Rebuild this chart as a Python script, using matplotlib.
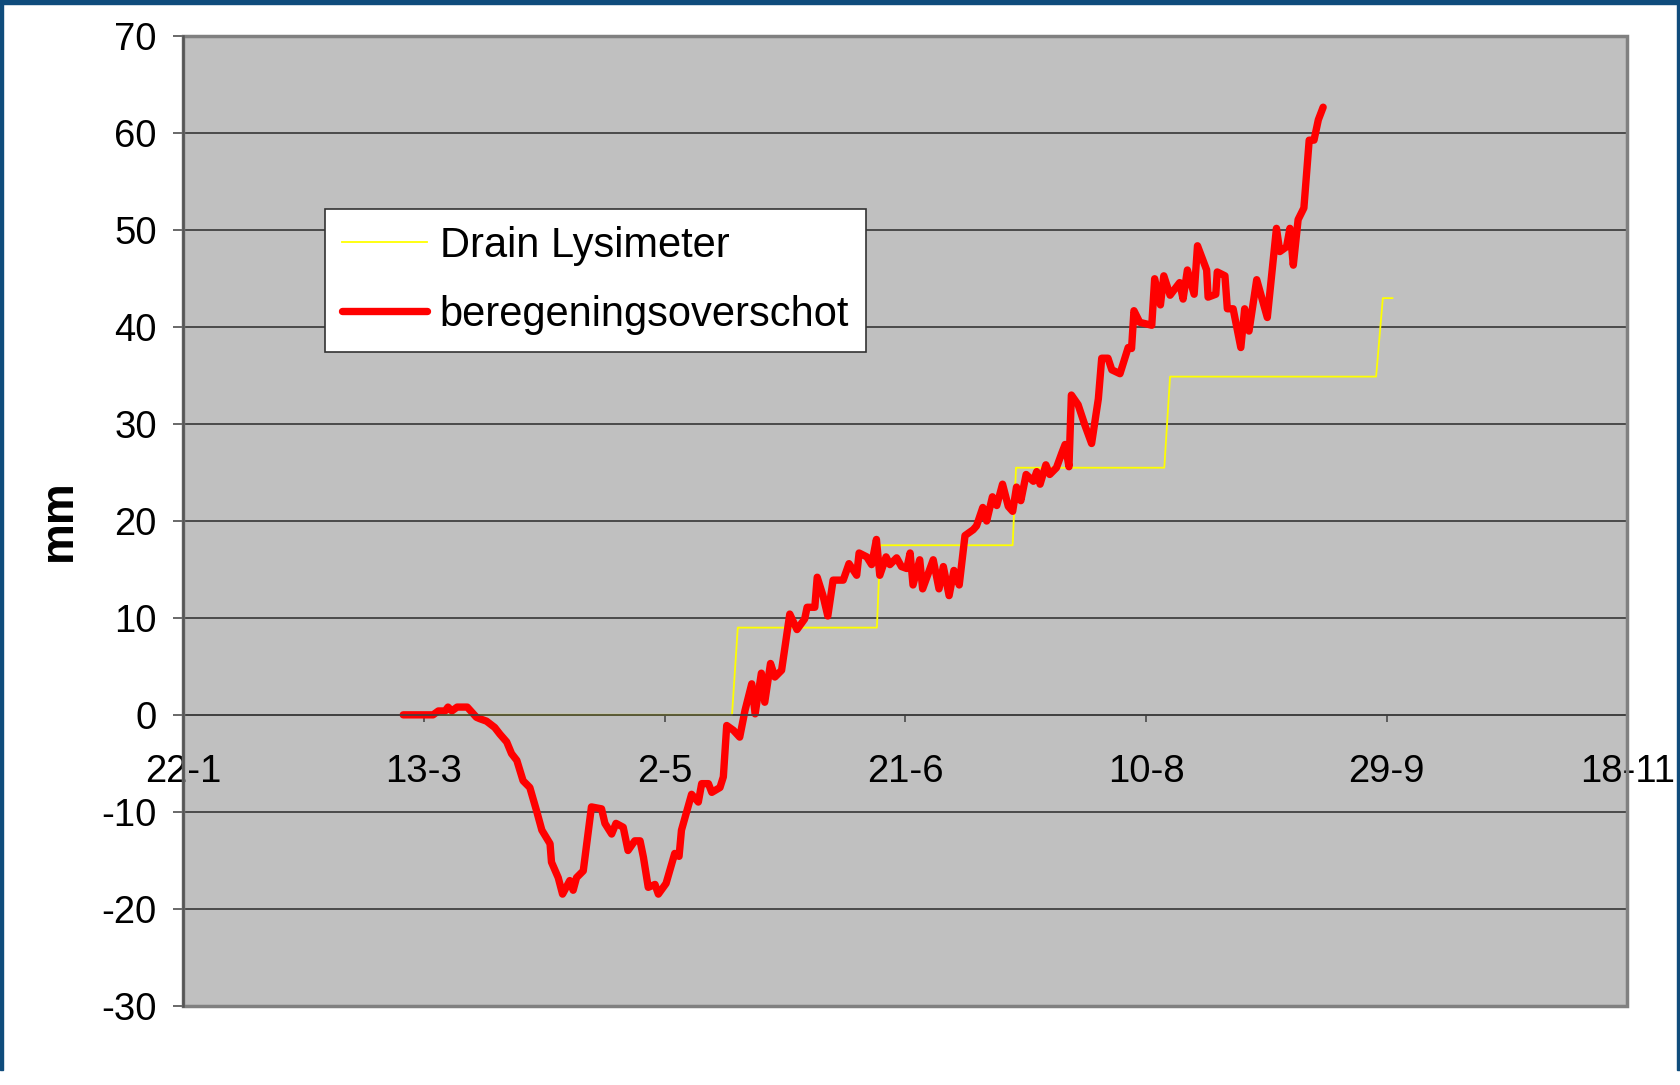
import matplotlib.pyplot as plt
from matplotlib.patches import Rectangle

plt.rcParams['font.family'] = ['Liberation Sans', 'DejaVu Sans']
plt.rcParams['axes.unicode_minus'] = False

# x = days after 22 January
tick_days = [0, 50, 100, 150, 200, 250, 300]
tick_labels = ['22-1', '13-3', '2-5', '21-6', '10-8', '29-9', '18-11']

# Drain Lysimeter (cumulative, mm)
drain_day = [50.0, 114.0, 115.2, 144.1, 144.8, 172.3, 173.0, 203.8, 205.0, 247.8, 249.2, 251.2]
drain_mm = [0.0, 0.0, 9.0, 9.0, 17.5, 17.5, 25.5, 25.5, 34.9, 34.9, 43.0, 43.0]

# beregeningsoverschot (mm)
surplus_day = [45.7, 51.9, 53.0, 54.4, 55.0, 55.8, 56.9, 59.0, 60.9, 61.6,
               63.0, 64.7, 65.8, 67.2, 68.2, 69.3, 70.6, 72.0, 73.4, 74.5,
               76.2, 76.5, 77.9, 78.8, 80.3, 81.0, 81.7, 83.1, 84.8, 86.9,
               87.6, 89.0, 89.9, 91.4, 92.4, 93.8, 94.9, 95.6, 96.6, 98.0,
               98.7, 100.3, 102.1, 103.0, 103.5, 105.6, 107.0, 107.7, 109.1, 109.8,
               111.5, 112.2, 112.9, 114.3, 115.6, 116.7, 118.1, 118.8, 120.1, 120.8,
               122.0, 122.9, 124.3, 126.0, 127.5, 129.1, 129.6, 131.2, 131.7, 132.9,
               133.9, 135.0, 137.1, 138.3, 139.9, 140.4, 142.0, 143.0, 144.0, 144.7,
               146.0, 146.8, 148.2, 149.2, 150.3, 151.0, 151.6, 153.0, 153.6, 155.8,
               157.0, 157.9, 159.1, 160.1, 161.2, 162.4, 164.1, 164.8, 166.1, 166.9,
               168.1, 169.0, 170.2, 171.4, 172.3, 173.1, 174.0, 175.1, 176.6, 177.3,
               178.0, 179.2, 180.0, 181.4, 182.5, 183.2, 184.0, 184.5, 185.9, 187.3,
               188.7, 190.1, 190.8, 192.1, 192.9, 194.6, 196.3, 197.0, 197.5, 198.7,
               201.2, 201.8, 203.0, 203.7, 205.0, 207.0, 207.7, 208.6, 210.0, 210.7,
               212.6, 212.9, 214.5, 214.8, 216.4, 216.9, 218.1, 219.7, 220.5, 221.4,
               223.0, 225.2, 227.1, 227.8, 229.2, 229.9, 230.6, 231.6, 232.8, 233.9,
               234.9, 235.8, 236.8]
surplus_mm = [0.0, 0.0, 0.4, 0.4, 0.8, 0.4, 0.8, 0.8, -0.25, -0.4,
              -0.65, -1.3, -2.0, -2.8, -4.0, -4.7, -6.8, -7.5, -9.9, -11.9,
              -13.3, -15.2, -16.8, -18.5, -17.1, -18.1, -16.8, -16.1, -9.5, -9.7,
              -11.2, -12.3, -11.2, -11.6, -14.0, -13.0, -13.0, -14.7, -17.8, -17.5,
              -18.5, -17.4, -14.3, -14.6, -11.9, -8.2, -9.0, -7.1, -7.1, -8.0,
              -7.5, -6.4, -1.1, -1.6, -2.3, 0.45, 3.2, 0.1, 4.3, 1.3,
              5.3, 3.9, 4.6, 10.4, 8.8, 9.9, 11.1, 11.1, 14.2, 12.3,
              10.2, 13.9, 13.9, 15.6, 14.4, 16.7, 16.3, 15.5, 18.1, 14.4,
              16.3, 15.5, 16.2, 15.3, 15.1, 16.7, 13.4, 16.0, 13.0, 16.0,
              13.0, 15.3, 12.3, 14.9, 13.4, 18.5, 19.1, 19.5, 21.4, 20.0,
              22.5, 21.6, 23.8, 21.5, 21.0, 23.5, 22.1, 24.8, 24.1, 25.1,
              23.8, 25.8, 24.8, 25.5, 27.0, 27.9, 25.6, 33.0, 32.0, 29.9,
              28.0, 32.6, 36.8, 36.8, 35.6, 35.2, 37.9, 37.8, 41.7, 40.5,
              40.2, 45.0, 42.3, 45.3, 43.3, 44.6, 42.9, 45.9, 43.4, 48.4,
              45.9, 43.1, 43.4, 45.7, 45.3, 41.9, 41.9, 37.9, 41.9, 39.6,
              44.9, 41.0, 50.2, 47.8, 48.3, 50.2, 46.4, 51.1, 52.3, 59.3,
              59.3, 61.4, 62.7]

fig = plt.figure(figsize=(16.81, 10.85), dpi=100)
ax = fig.add_axes([0.1090, 0.0732, 0.8591, 0.8932])
ax.set_facecolor('#c0c0c0')

ax.plot(drain_day, drain_mm, color='#ffff00', lw=1.3, label='Drain Lysimeter')
ax.plot(surplus_day, surplus_mm, color='#ff0000', lw=5.3,
        solid_joinstyle='round', solid_capstyle='round', label='beregeningsoverschot')

ax.set_xlim(0, 300)
ax.set_ylim(-30, 70)
ax.set_yticks(range(-30, 71, 10))
ax.set_xticks(tick_days)
ax.set_xticklabels(tick_labels)
ax.grid(axis='y', color='#2b2b2b', lw=1.1)
ax.set_axisbelow(True)

# x axis crosses at zero, plot area framed in grey
ax.spines['bottom'].set_position(('data', 0))
ax.spines['bottom'].set_color('#404040')
ax.spines['bottom'].set_linewidth(1.2)
for s in ['top', 'right']:
    ax.spines[s].set_visible(False)
ax.add_patch(Rectangle((0, 0), 1, 1, transform=ax.transAxes, fill=False,
                       ec='#808080', lw=2.5, clip_on=False, zorder=3))
ax.spines['left'].set_color('#555555')
ax.spines['left'].set_linewidth(1.8)
ax.spines['left'].set_zorder(4)

ax.tick_params(axis='y', direction='out', length=7, width=1.1, color='#404040',
               labelsize=27.5, pad=12)
ax.tick_params(axis='x', direction='out', length=5, width=1.1, color='#404040',
               labelsize=27.5, pad=23)

fig.text(59 / 1681, 1 - 520 / 1085, 'mm', rotation=90, fontsize=33,
         fontweight='bold', ha='center', va='center')

leg = ax.legend(loc='upper left', bbox_to_anchor=(325 / 1681, 1 - 209 / 1085),
                bbox_transform=fig.transFigure, borderaxespad=0, fontsize=30,
                frameon=True, fancybox=False, framealpha=1, edgecolor='#333333',
                handlelength=2.05, handletextpad=0.3, labelspacing=0.7,
                borderpad=0.4)
leg.get_frame().set_linewidth(1.2)

# navy slide border
navy = '#0f4c7c'
fig.add_artist(Rectangle((0, 1 - 4 / 1085), 1, 4 / 1085, transform=fig.transFigure, color=navy))
fig.add_artist(Rectangle((0, 15 / 1085), 3 / 1681, 1 - 15 / 1085, transform=fig.transFigure, color=navy))
fig.add_artist(Rectangle((1 - 4 / 1681, 15 / 1085), 4 / 1681, 1 - 15 / 1085, transform=fig.transFigure, color=navy))

fig.savefig('out.png', dpi=100)
